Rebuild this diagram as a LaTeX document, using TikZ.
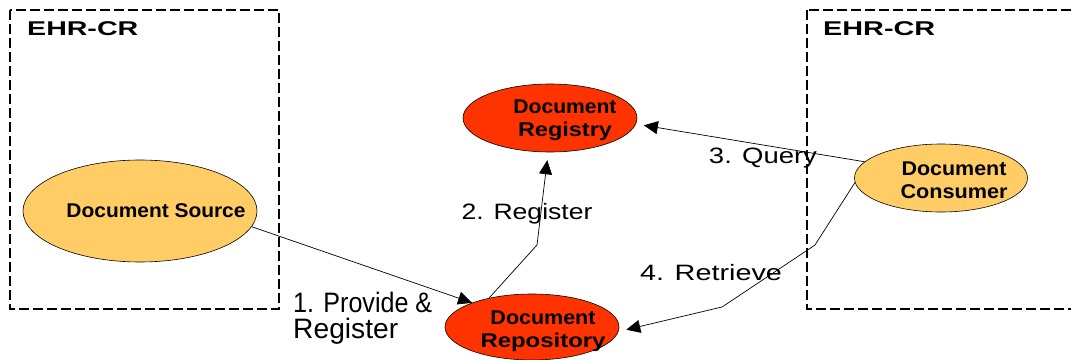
\documentclass[tikz,border=0pt]{standalone}
\usepackage{fontspec}
\setmainfont{Liberation Sans}
\usepackage{graphicx}
\usepackage{xcolor}
\usetikzlibrary{arrows.meta, positioning, calc, shapes.geometric}
\definecolor{actorfill}{HTML}{FFCC66}
\definecolor{storefill}{HTML}{FF3300}
\newcommand{\fitw}[2]{\resizebox{#1}{\height}{#2}}

\begin{document}
\begin{tikzpicture}[
  x=0.3mm, y=-0.3mm,
  domainbox/.style={draw, dashed, line width=1.5pt, dash pattern=on 3mm off 1.2mm},
  actor/.style={ellipse, draw, line width=0.5pt, fill=actorfill, inner sep=0pt},
  store/.style={ellipse, draw, line width=0.5pt, fill=storefill, inner sep=0pt},
  actortext/.style={font=\fontsize{17}{19.6}\selectfont\bfseries, align=center, inner sep=0pt},
  domtext/.style={font=\fontsize{17}{20}\selectfont\bfseries, anchor=base west, inner sep=0pt},
  msgtext/.style={font=\fontsize{19}{22}\selectfont, inner sep=0pt},
  flow/.style={line width=0.6pt, -{Triangle[length=4.2mm, width=3.9mm]}}
]
  \useasboundingbox (0,0) rectangle (1071,360);
  \clip (0,0) rectangle (1071,360);

  % Domains
  \draw[domainbox] (10,10) rectangle (279,309);
  \draw[domainbox] (807,10) rectangle (1095,309);
  \node[domtext] (domL) at (27,36) {\fitw{33.3mm}{EHR-CR}};
  \node[domtext] (domR) at (823,36) {\fitw{33.6mm}{EHR-CR}};

  % Actors
  \node[actor, minimum width=70.2mm, minimum height=30.6mm] (src) at (140,211) {};
  \node[store, minimum width=52.2mm, minimum height=20.4mm] (reg) at (550,118) {};
  \node[store, minimum width=52.2mm, minimum height=19.8mm] (repo) at (532,327) {};
  \node[actor, minimum width=51.9mm, minimum height=20.4mm] (cons) at (941,178) {};

  \node[actortext] (srcT) at (156,211) {\fitw{53.7mm}{Document Source}};
  \node[actortext] (regT) at (565,120) {\fitw{30.9mm}{Document}\\\fitw{28.2mm}{Registry}};
  \node[actortext] (repoT) at (543,331) {\fitw{31.5mm}{Document}\\\fitw{37.5mm}{Repository}};
  \node[actortext] (consT) at (954,180) {\fitw{31.5mm}{Document}\\\fitw{32.1mm}{Consumer}};

  % Bends
  \coordinate (b2) at (537,245);
  \coordinate (b4a) at (815,245);
  \coordinate (b4b) at (722,307);

  % Transactions
  \draw[flow] (src.-8) -- (repo.158);
  \draw[flow, shorten >=2.4mm] (repo.146) -- (b2) -- (reg.-93);
  \draw[flow, shorten >=2.4mm] (cons.168) -- (reg.-4);
  \draw[flow, shorten >=2.4mm] (cons.183) -- (b4a) -- (b4b) -- (repo.-3);

  % Labels
  \node[msgtext, font=\fontsize{24}{22}\selectfont, anchor=base west, align=left] (t1) at (293,338) {\fitw{41.7mm}{1. Provide \&}\\\fitw{31.5mm}{Register}};
  \node[msgtext, anchor=base] (t2) at (527,219) {\fitw{39.3mm}{2. Register}};
  \node[msgtext, anchor=base] (t3) at (763,163) {\fitw{32.4mm}{3. Query}};
  \node[msgtext, anchor=base] (t4) at (711,280) {\fitw{42.6mm}{4. Retrieve}};
\end{tikzpicture}
\end{document}
